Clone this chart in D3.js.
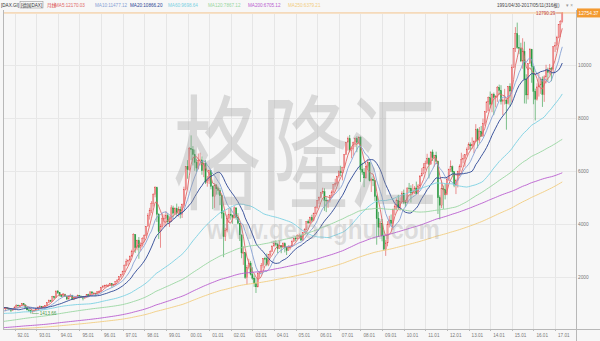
<!DOCTYPE html>
<html>
<head>
<meta charset="utf-8">
<script src="https://cdn.jsdelivr.net/npm/d3@7"></script>
<style>
html, body { margin: 0; padding: 0; background: #f7f7f7; }
svg { display: block; font-family: "Liberation Sans", Arial, "Noto Sans CJK SC", sans-serif; }
</style>
</head>
<body>
<div id="chart"></div>
<script>
var width = 600,
    height = 341;

var plot = { left: 3, right: 576, top: 10, bottom: 329 };

// monthly closes before the chart window (1970.01 - 1991.01), only used for the moving averages
var pastCloses = [
  560, 550, 540, 520, 480, 460, 470, 460, 450, 440, 430, 440,
  460, 470, 480, 500, 490, 480, 470, 480, 470, 460, 470, 490,
  510, 530, 540, 540, 530, 540, 540, 530, 520, 530, 550, 560,
  570, 550, 540, 530, 510, 500, 480, 470, 460, 450, 420, 400,
  410, 420, 410, 400, 390, 380, 370, 380, 360, 380, 390, 400,
  440, 470, 500, 510, 520, 530, 540, 540, 530, 550, 560, 560,
  570, 580, 560, 550, 540, 530, 520, 510, 500, 490, 500, 510,
  520, 520, 510, 510, 520, 530, 540, 540, 550, 560, 560, 550,
  550, 550, 560, 570, 580, 580, 580, 590, 590, 580, 570, 570,
  560, 560, 550, 540, 530, 520, 510, 500, 510, 490, 480, 480,
  490, 490, 470, 470, 480, 480, 490, 490, 490, 480, 480, 480,
  480, 470, 480, 490, 490, 500, 510, 500, 480, 480, 490, 490,
  490, 500, 510, 520, 520, 510, 510, 500, 500, 530, 550, 550,
  590, 620, 640, 660, 680, 690, 720, 730, 730, 750, 770, 770,
  790, 780, 780, 780, 740, 730, 720, 740, 760, 780, 800, 820,
  860, 900, 910, 940, 990, 1010, 1040, 1050, 1120, 1230, 1300, 1370,
  1420, 1460, 1520, 1500, 1440, 1400, 1360, 1400, 1380, 1410, 1440, 1430,
  1340, 1300, 1280, 1290, 1280, 1320, 1420, 1460, 1500, 1100, 1000, 1000,
  960, 1010, 1020, 1030, 1040, 1090, 1140, 1120, 1170, 1220, 1230, 1330,
  1360, 1390, 1400, 1410, 1460, 1520, 1560, 1580, 1600, 1550, 1620, 1790,
  1830, 1790, 1800, 1820, 1880, 1900, 1950, 1600, 1450, 1430, 1450, 1400,
  1330
];

// 1991.02 - 2017.05, one row per year
var closes = [
  1440, 1560, 1590, 1650, 1590, 1620, 1630, 1600, 1560, 1540, 1578,
  1660, 1730, 1700, 1720, 1790, 1740, 1640, 1550, 1530, 1470, 1510, 1545,
  1600, 1650, 1680, 1650, 1670, 1710, 1820, 1900, 1880, 2050, 2010, 2267,
  2200, 2110, 2060, 2140, 2060, 1960, 2070, 2100, 1950, 2010, 2020, 2106,
  2050, 2040, 1990, 2030, 2130, 2100, 2230, 2180, 2180, 2150, 2240, 2254,
  2400, 2430, 2470, 2480, 2480, 2540, 2480, 2500, 2620, 2680, 2800, 2889,
  3010, 3240, 3380, 3430, 3580, 3760, 4400, 3900, 4170, 3900, 4000, 4250,
  4350, 4710, 5100, 5300, 5570, 5900, 6170, 5160, 4500, 4700, 5000, 5002,
  5100, 4880, 4880, 5400, 5200, 5380, 5200, 5350, 5150, 5530, 6100, 6958,
  6840, 7640, 7600, 7410, 7110, 6900, 7190, 7210, 6800, 7080, 6370, 6434,
  6800, 6210, 5830, 6260, 6120, 6060, 5860, 5190, 4310, 4560, 5000, 5160,
  5110, 5040, 5400, 5040, 4820, 4380, 3700, 3710, 2770, 3150, 3320, 2893,
  2750, 2550, 2420, 2940, 2980, 3220, 3490, 3480, 3260, 3650, 3750, 3965,
  4060, 4020, 3860, 3990, 3920, 4050, 3900, 3790, 3890, 3960, 4130, 4256,
  4250, 4350, 4350, 4180, 4460, 4590, 4890, 4830, 5040, 4930, 5190, 5408,
  5670, 5800, 5970, 6010, 5690, 5680, 5680, 5860, 6000, 6270, 6310, 6597,
  6790, 6720, 6920, 7410, 7880, 8010, 7580, 7640, 7860, 8020, 7870, 8067,
  6850, 6750, 6530, 6950, 7100, 6420, 6480, 6420, 5830, 4990, 4670, 4810,
  4340, 3840, 4080, 4770, 4940, 4810, 5330, 5460, 5680, 5410, 5630, 5957,
  5610, 5600, 6150, 6140, 5960, 5970, 6150, 5930, 6230, 6600, 6690, 6914,
  7080, 7270, 7040, 7510, 7290, 7380, 7160, 5780, 5500, 6140, 6090, 5898,
  6460, 6860, 6950, 6760, 6260, 6420, 6770, 6970, 7220, 7260, 7410, 7612,
  7780, 7740, 7800, 7910, 8350, 7960, 8280, 8100, 8590, 9030, 9400, 9552,
  9310, 9690, 9560, 9600, 9940, 9830, 9410, 9470, 9470, 9330, 9980, 9806,
  10690, 11400, 11970, 11450, 11410, 10940, 11310, 10260, 9660, 10850, 11380, 10743,
  9800, 9500, 9965, 10040, 10260, 9680, 10340, 10590, 10510, 10660, 10640, 11481,
  11535, 11834, 12313, 12438, 12754.37
];

var highs = [
  1460, 1600, 1640, 1680, 1660, 1640, 1660, 1640, 1620, 1580, 1590,
  1680, 1760, 1750, 1740, 1811, 1800, 1750, 1650, 1590, 1560, 1530, 1560,
  1620, 1680, 1720, 1700, 1700, 1730, 1840, 1940, 1930, 2080, 2080, 2270,
  2290, 2220, 2150, 2180, 2160, 2080, 2100, 2160, 2120, 2060, 2080, 2130,
  2110, 2090, 2060, 2060, 2150, 2160, 2250, 2260, 2230, 2200, 2250, 2290,
  2420, 2490, 2500, 2520, 2530, 2570, 2560, 2540, 2640, 2700, 2820, 2900,
  3030, 3260, 3480, 3450, 3600, 3820, 4440, 4400, 4200, 4300, 4060, 4290,
  4400, 4720, 5200, 5400, 5650, 5950, 6217, 6200, 5200, 4800, 5200, 5150,
  5280, 5200, 5080, 5500, 5480, 5420, 5560, 5450, 5450, 5560, 6200, 6970,
  7200, 7700, 8136, 7730, 7600, 7250, 7450, 7480, 7340, 7160, 7200, 6600,
  6840, 6800, 6250, 6300, 6300, 6200, 6150, 5900, 5300, 4650, 5150, 5400,
  5400, 5150, 5460, 5420, 5200, 4820, 4400, 3950, 3720, 3250, 3480, 3400,
  3160, 2850, 2750, 2970, 3000, 3320, 3500, 3560, 3680, 3660, 3800, 3970,
  4160, 4180, 4080, 4160, 4000, 4100, 4100, 3920, 3990, 3990, 4200, 4270,
  4330, 4400, 4430, 4390, 4480, 4630, 4900, 4960, 5070, 5140, 5220, 5460,
  5700, 5830, 5990, 6160, 6140, 5800, 5700, 5880, 6060, 6300, 6500, 6610,
  6800, 6990, 6950, 7420, 7890, 8090, 8151, 7690, 7900, 8060, 8100, 8100,
  8100, 7100, 6900, 6950, 7230, 7100, 6540, 6600, 6450, 5900, 5250, 4900,
  4980, 4550, 4200, 4900, 5100, 5150, 5370, 5540, 5760, 5890, 5800, 6030,
  6090, 5700, 6170, 6340, 6250, 6300, 6220, 6390, 6300, 6640, 6900, 7090,
  7180, 7440, 7300, 7530, 7600, 7400, 7520, 7180, 5870, 6430, 6240, 6300,
  6550, 6880, 7190, 7000, 6790, 6500, 6800, 7040, 7480, 7410, 7420, 7680,
  7870, 7870, 8060, 7950, 8560, 8410, 8450, 8490, 8770, 9050, 9410, 9600,
  9790, 9720, 9750, 9650, 10000, 10050, 10030, 9530, 9890, 9500, 10000, 10100,
  10810, 11420, 12220, 12390, 11920, 11630, 11800, 11670, 10440, 10850, 11430, 11400,
  10750, 9900, 10100, 10480, 10330, 10360, 10400, 10800, 10690, 10830, 10720, 11490,
  11660, 11890, 12320, 12480, 12790.29
];

var lows = [
  1320, 1430, 1540, 1580, 1570, 1570, 1500, 1570, 1540, 1470, 1520,
  1560, 1650, 1680, 1680, 1710, 1720, 1620, 1530, 1480, 1413.66, 1450, 1490,
  1520, 1590, 1630, 1600, 1620, 1650, 1700, 1810, 1850, 1870, 1960, 2000,
  2150, 2060, 2030, 2040, 2040, 1920, 1950, 2040, 1930, 1920, 1980, 1990,
  1990, 2000, 1910, 1980, 2020, 2070, 2090, 2150, 2120, 2070, 2140, 2200,
  2240, 2360, 2380, 2430, 2430, 2470, 2400, 2440, 2490, 2590, 2660, 2760,
  2860, 2980, 3200, 3230, 3370, 3550, 3750, 3700, 3800, 3480, 3780, 3940,
  4100, 4330, 4700, 4960, 5200, 5450, 5800, 4870, 4230, 3896, 4650, 4700,
  4700, 4800, 4680, 4870, 5030, 5130, 5100, 5070, 5000, 5020, 5450, 6060,
  6500, 6800, 7200, 7000, 6800, 6750, 6850, 7000, 6650, 6560, 6300, 6200,
  6300, 6100, 5350, 5400, 5900, 5900, 5500, 5000, 3540, 4150, 4480, 4850,
  4950, 4800, 5000, 4950, 4780, 4150, 3500, 3250, 2720, 2520, 3080, 2850,
  2690, 2420, 2189, 2400, 2760, 2950, 3140, 3250, 3200, 3200, 3570, 3740,
  3930, 3950, 3690, 3850, 3690, 3880, 3720, 3620, 3790, 3830, 3930, 4100,
  4140, 4220, 4260, 4160, 4150, 4450, 4560, 4800, 4790, 4860, 4890, 5180,
  5370, 5550, 5760, 5920, 5290, 5240, 5400, 5600, 5800, 5970, 6200, 6250,
  6520, 6600, 6440, 6900, 7400, 7560, 7500, 7270, 7370, 7700, 7500, 7800,
  6380, 6650, 6180, 6500, 6900, 6400, 6000, 6220, 5660, 4010, 4300, 4350,
  4140, 3800, 3589, 3950, 4660, 4700, 4570, 5130, 5300, 5370, 5300, 5600,
  5540, 5430, 5600, 5980, 5600, 5880, 5920, 5900, 5900, 6150, 6600, 6670,
  6840, 7040, 6510, 7040, 7170, 6960, 7060, 5170, 4966, 5390, 5360, 5720,
  5880, 6420, 6750, 6580, 6180, 5920, 6170, 6600, 6920, 7080, 6950, 7370,
  7600, 7570, 7630, 7460, 7900, 7650, 7840, 8090, 8100, 8500, 8980, 9050,
  9160, 9010, 8900, 9190, 9400, 9660, 9300, 8900, 9300, 8350, 9300, 9220,
  9380, 10680, 11280, 11400, 11200, 10900, 10650, 9340, 9330, 9490, 10840, 10120,
  9310, 8699, 9450, 9600, 9700, 9210, 9400, 10100, 10170, 10430, 10180, 10470,
  11280, 11360, 11800, 11850, 12390
];

var maPeriods = [5, 10, 20, 60, 120, 200, 250];
var maColors = ["#e06868", "#86a0d4", "#2a4594", "#7ad0e2", "#98d6a0", "#b95ccf", "#f2cd80"];
var maLabels = ["MA5:12170.03", "MA10:11477.12", "MA20:10866.20", "MA60:9698.64", "MA120:7867.12", "MA200:6705.12", null];
var maLabelX = [55, 95, 130, 168, 208, 248, 288];
var yTicks = [2000, 4000, 6000, 8000, 10000];
var startYear = 1991, startMonth = 1; // February 1991
var firstVisible = 2; // chart window opens at 1991/04

var upColor = "#e04848", upFill = "#f3a3a3", downColor = "#2b9b43";

var bars = closes.map(function(c, i) {
  var m = startMonth + i;
  return {
    i: i,
    year: startYear + Math.floor(m / 12),
    month: m % 12,
    open: i ? closes[i - 1] : pastCloses[pastCloses.length - 1],
    close: c,
    high: highs[i],
    low: lows[i]
  };
});

var allCloses = pastCloses.concat(closes);
var offset = pastCloses.length;
var maSeries = maPeriods.map(function(p) {
  return closes.map(function(c, i) {
    var end = offset + i + 1;
    return d3.mean(allCloses.slice(end - p, end));
  });
});

var svg = d3.select('#chart')
  .append('svg')
  .attr('width', width)
  .attr('height', height);

svg.append('rect')
  .attr('width', width)
  .attr('height', height)
  .attr('fill', '#f7f7f7');

var x = d3.scaleBand()
  .domain(d3.range(bars.length))
  .range([-5.9, 562.9])
  .paddingInner(0.3);
var bw = x.bandwidth();
function cx(i) { return x(i) + bw / 2; }

var y = d3.scaleLinear()
  .domain([0, 12790.29])
  .range([351, 12]);

var labelShift = -21;

svg.append('clipPath')
  .attr('id', 'plotclip')
  .append('rect')
  .attr('x', plot.left)
  .attr('y', plot.top)
  .attr('width', plot.right - plot.left)
  .attr('height', plot.bottom - plot.top);

// grid
var janBars = bars.filter(function(d) { return d.month === 0; });

svg.append('g')
  .selectAll('line')
  .data(janBars)
  .enter()
  .append('line')
  .attr('x1', function(d) { return Math.round(cx(d.i)) + 0.5; })
  .attr('x2', function(d) { return Math.round(cx(d.i)) + 0.5; })
  .attr('y1', 14)
  .attr('y2', plot.bottom)
  .attr('stroke', '#e6e6e6')
  .attr('stroke-width', 1);

svg.append('g')
  .selectAll('line')
  .data(yTicks)
  .enter()
  .append('line')
  .attr('x1', plot.left)
  .attr('x2', plot.right)
  .attr('y1', function(d) { return Math.round(y(d) + labelShift) + 0.5; })
  .attr('y2', function(d) { return Math.round(y(d) + labelShift) + 0.5; })
  .attr('stroke', '#e8e8e8')
  .attr('stroke-width', 1);

var chart = svg.append('g').attr('clip-path', 'url(#plotclip)');

// candles
var candle = chart.append('g')
  .selectAll('g')
  .data(bars)
  .enter()
  .append('g');

candle.append('line')
  .attr('x1', function(d) { return cx(d.i); })
  .attr('x2', function(d) { return cx(d.i); })
  .attr('y1', function(d) { return y(d.high); })
  .attr('y2', function(d) { return y(d.low); })
  .attr('stroke', function(d) { return d.close >= d.open ? upColor : downColor; })
  .attr('stroke-width', 0.6);

candle.append('rect')
  .attr('x', function(d) { return x(d.i); })
  .attr('width', bw)
  .attr('y', function(d) { return y(Math.max(d.open, d.close)); })
  .attr('height', function(d) { return Math.max(0.8, Math.abs(y(d.open) - y(d.close))); })
  .attr('fill', function(d) { return d.close >= d.open ? upFill : downColor; })
  .attr('stroke', function(d) { return d.close >= d.open ? upColor : downColor; })
  .attr('stroke-width', 0.3);

// moving averages
var line = d3.line()
  .defined(function(v) { return v != null; })
  .x(function(v, i) { return cx(i); })
  .y(function(v) { return y(v); });

chart.append('g')
  .selectAll('path')
  .data(maSeries)
  .enter()
  .append('path')
  .attr('d', line)
  .attr('fill', 'none')
  .attr('stroke', function(d, i) { return maColors[i]; })
  .attr('stroke-width', 0.9);

// last price line
var last = bars[bars.length - 1];
chart.append('line')
  .attr('x1', plot.left)
  .attr('x2', plot.right)
  .attr('y1', y(last.close))
  .attr('y2', y(last.close))
  .attr('stroke', '#f2b670')
  .attr('stroke-width', 0.8);

// frame
svg.append('line')
  .attr('x1', plot.left + 0.5).attr('x2', plot.left + 0.5)
  .attr('y1', plot.top).attr('y2', plot.bottom)
  .attr('stroke', '#b8b8b8');
svg.append('line')
  .attr('x1', plot.right + 0.5).attr('x2', plot.right + 0.5)
  .attr('y1', plot.top).attr('y2', height)
  .attr('stroke', '#b8b8b8');
svg.append('line')
  .attr('x1', plot.left).attr('x2', width)
  .attr('y1', plot.bottom + 0.5).attr('y2', plot.bottom + 0.5)
  .attr('stroke', '#b8b8b8');

// y axis
var yAxis = d3.axisRight(y)
  .tickValues(yTicks)
  .tickSize(0)
  .tickPadding(2)
  .tickFormat(d3.format('d'));

var yg = svg.append('g')
  .attr('transform', 'translate(' + plot.right + ',' + labelShift + ')')
  .call(yAxis);
yg.select('.domain').remove();
yg.selectAll('text')
  .style('font-size', '4.8px')
  .attr('fill', '#777');

// x axis labels
var xl = svg.append('g');
xl.selectAll('line')
  .data(janBars)
  .enter()
  .append('line')
  .attr('x1', function(d) { return Math.round(cx(d.i)) + 0.5; })
  .attr('x2', function(d) { return Math.round(cx(d.i)) + 0.5; })
  .attr('y1', plot.bottom)
  .attr('y2', plot.bottom + 2)
  .attr('stroke', '#b8b8b8');
xl.selectAll('text')
  .data(janBars)
  .enter()
  .append('text')
  .attr('x', function(d) { return cx(d.i) + 3; })
  .attr('y', 337)
  .style('font-size', '4.6px')
  .attr('fill', '#777')
  .text(function(d) { return d3.format('02d')(d.year % 100) + '.01'; });

// high / low markers
var visible = bars.slice(firstVisible);
var hi = visible[d3.maxIndex(visible, function(d) { return d.high; })];
var lo = visible[d3.minIndex(visible, function(d) { return d.low; })];

svg.append('line')
  .attr('x1', cx(hi.i) - 6).attr('x2', cx(hi.i) - 1)
  .attr('y1', y(hi.high) + 1).attr('y2', y(hi.high) + 1)
  .attr('stroke', '#c85050').attr('stroke-width', 0.5);
svg.append('text')
  .attr('x', cx(hi.i) - 7)
  .attr('y', y(hi.high) + 2.6)
  .attr('text-anchor', 'end')
  .style('font-size', '4.6px')
  .attr('fill', '#c04848')
  .text(d3.format('.2f')(hi.high));

svg.append('line')
  .attr('x1', cx(lo.i) + 1).attr('x2', cx(lo.i) + 8)
  .attr('y1', y(lo.low)).attr('y2', y(lo.low))
  .attr('stroke', '#4b9b4b').attr('stroke-width', 0.5);
svg.append('text')
  .attr('x', cx(lo.i) + 9)
  .attr('y', y(lo.low) + 1.6)
  .style('font-size', '4.6px')
  .attr('fill', '#4b9b4b')
  .text(d3.format('.2f')(lo.low));

// last price tag
svg.append('rect')
  .attr('x', plot.right + 1)
  .attr('y', y(last.close) - 4.5)
  .attr('width', width - plot.right - 1)
  .attr('height', 9)
  .attr('fill', '#f39a30');
svg.append('text')
  .attr('x', (plot.right + width) / 2 + 0.5)
  .attr('y', y(last.close) + 1.7)
  .attr('text-anchor', 'middle')
  .style('font-size', '4.8px')
  .attr('fill', '#fff')
  .text(d3.format('.2f')(last.close));

// header
var head = svg.append('g').style('font-size', '4.6px');
head.append('text').attr('x', 1).attr('y', 6.5).attr('fill', '#333').text('[DAX.GI]');
head.append('rect').attr('x', 20).attr('y', 1.5).attr('width', 23).attr('height', 6.5)
  .attr('fill', 'none').attr('stroke', '#888').attr('stroke-width', 0.5);
head.append('text').attr('x', 21).attr('y', 6.5).attr('fill', '#333').text('[德国DAX]');
head.append('text').attr('x', 47).attr('y', 6.5).attr('fill', '#d83a3a').text('月线');

maPeriods.forEach(function(p, k) {
  var txt = maLabels[k] || ('MA' + p + ':' + d3.format('.2f')(maSeries[k][maSeries[k].length - 1]));
  head.append('text')
    .attr('x', maLabelX[k])
    .attr('y', 6.5)
    .attr('fill', maColors[k])
    .text(txt);
});

head.append('text').attr('x', 497).attr('y', 6.5).attr('fill', '#444')
  .text('1991/04/30-2017/05/11(316根)');
head.append('text').attr('x', 566).attr('y', 6.5).attr('fill', '#999').text('▾ ×');

// watermark
svg.append('text')
  .attr('transform', 'translate(305,200) scale(1,1.42)')
  .attr('text-anchor', 'middle')
  .style('font-family', '"Noto Sans CJK SC", sans-serif')
  .style('font-size', '88px')
  .attr('fill', '#9a9a9a')
  .attr('fill-opacity', 0.33)
  .text('格隆汇');

svg.append('text')
  .attr('x', 207)
  .attr('y', 239)
  .attr('textLength', 233)
  .attr('lengthAdjust', 'spacingAndGlyphs')
  .style('font-size', '27px')
  .style('font-weight', 'bold')
  .attr('fill', '#9a9a9a')
  .attr('fill-opacity', 0.28)
  .text('www.gelonghui.com');
</script>
</body>
</html>
